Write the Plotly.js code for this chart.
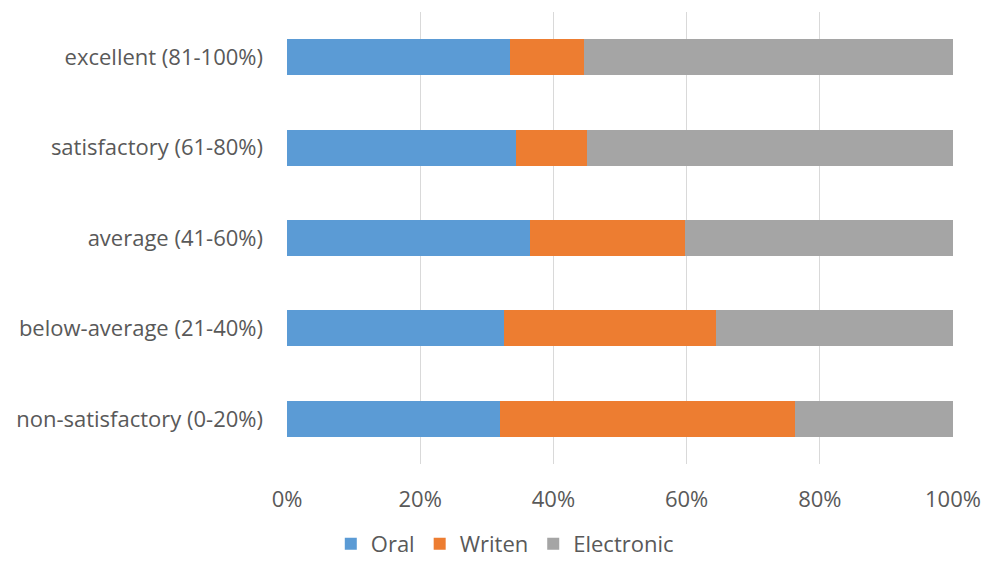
<!DOCTYPE html>
<html>
<head>
<meta charset="utf-8">
<script src="https://cdn.plot.ly/plotly-3.0.1.min.js"></script>
<style>html,body{margin:0;padding:0;background:#fff;}#chart{width:984px;height:565px;}</style>
</head>
<body>
<div id="chart"></div>
<script>
const categories = ["non-satisfactory (0-20%)", "below-average (21-40%)", "average (41-60%)", "satisfactory (61-80%)", "excellent (81-100%)"];
const oral = [32.0, 32.6, 36.5, 34.4, 33.5];
const writen = [44.3, 31.8, 23.3, 10.6, 11.1];
const electronic = [23.7, 35.6, 40.2, 55.0, 55.4];
const tickVals = [0, 20, 40, 60, 80, 100];
const tickText = ["0%", "20%", "40%", "60%", "80%", "100%"];

const font = {family: "Open Sans, Liberation Sans, sans-serif", size: 22, color: "#595959"};
const mk = (name, vals, color) => ({
  type: "bar", orientation: "h", name: name, x: vals, y: categories,
  marker: {color: color, line: {width: 0}}, hoverinfo: "x+name"
});
const data = [
  mk("Oral", oral, "#5B9BD5"),
  mk("Writen", writen, "#ED7D31"),
  mk("Electronic", electronic, "#A5A5A5")
];
const layout = {
  width: 984, height: 565,
  margin: {l: 287, r: 31, t: 12, b: 101, autoexpand: false},
  barmode: "stack", barnorm: "percent", bargap: 0.6,
  paper_bgcolor: "#fff", plot_bgcolor: "#fff",
  font: font,
  xaxis: {range: [0, 100], tickvals: tickVals, ticktext: tickText, showgrid: true,
    gridcolor: "#D9D9D9", gridwidth: 1, zeroline: false, showline: false, ticks: "",
    tickfont: font, ticklabelstandoff: 20, fixedrange: true, automargin: false},
  yaxis: {showgrid: false, zeroline: false, showline: false, ticks: "",
    tickfont: font, ticklabelstandoff: 23, fixedrange: true, automargin: false},
  showlegend: true,
  legend: {orientation: "h", xref: "container", yref: "container", x: 0.513, xanchor: "center",
    y: -0.006, yanchor: "bottom", font: font, traceorder: "normal", itemwidth: 30,
    tracegroupgap: 0, bgcolor: "rgba(0,0,0,0)"}
};
Plotly.newPlot("chart", data, layout, {displayModeBar: false, staticPlot: true});
</script>
</body>
</html>
